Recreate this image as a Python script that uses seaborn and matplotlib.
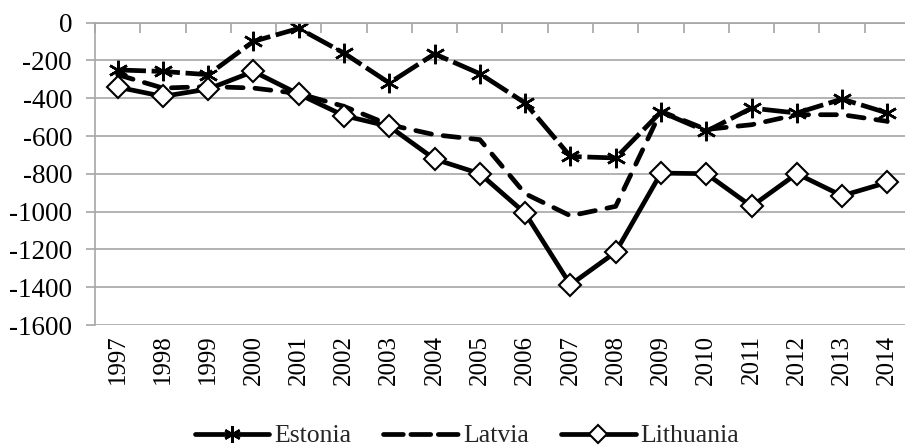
import numpy as np
import pandas as pd
import matplotlib
matplotlib.use("Agg")
import matplotlib.pyplot as plt
from matplotlib.lines import Line2D
import seaborn as sns

# Data
years = list(range(1997, 2015))
estonia = [-250, -258, -275, -99, -30, -161, -319, -165, -270, -425,
           -708, -716, -472, -575, -452, -478, -404, -478]
latvia = [-275, -346, -338, -346, -375, -443, -540, -593, -619, -905,
          -1022, -972, -469, -565, -540, -487, -487, -522]
lithuania = [-341, -390, -351, -258, -378, -492, -549, -722, -799, -1008,
             -1387, -1214, -796, -799, -972, -799, -916, -845]
series_names = ['Estonia', 'Latvia', 'Lithuania']

sns.set_theme(style="white")
plt.rcParams['font.family'] = ['Liberation Serif', 'DejaVu Serif']
plt.rcParams['axes.unicode_minus'] = False

fig = plt.figure(figsize=(9.05, 4.48), dpi=100)
ax = fig.add_axes([95 / 905, 1 - 325 / 448, 815 / 905, (325 - 22.7) / 448])

grid_c = '#a6a6a6'
lw = 3.4
star = (6, 2, 0)

sns.lineplot(x=years, y=estonia, ax=ax, color='black', linewidth=lw,
             marker=star, markersize=14, markeredgewidth=1.8,
             markeredgecolor='black', dashes=False)
ax.lines[-1].set_dashes((6.0, 1.2))

sns.lineplot(x=years, y=latvia, ax=ax, color='black', linewidth=lw, dashes=False)
ax.lines[-1].set_dashes((3.4, 2.5))
ax.lines[-1].set_dash_capstyle('round')

sns.lineplot(x=years, y=lithuania, ax=ax, color='black', linewidth=lw,
             marker='D', markersize=11, markerfacecolor='white',
             markeredgecolor='black', markeredgewidth=1.5, dashes=False)

ax.set_xlim(1996.5, 2014.5)
ax.set_ylim(-1600, 0)
ax.set_yticks(np.arange(-1600, 1, 200))
ax.set_xticks(years)
ax.set_xticklabels([str(y) for y in years], rotation=90)
ax.set_xticks(np.arange(1996.5, 2015, 1), minor=True)

ax.yaxis.grid(True, color=grid_c, linewidth=1.2)
ax.set_axisbelow(True)
for s in ['right', 'bottom']:
    ax.spines[s].set_visible(False)
for s in ['left', 'top']:
    ax.spines[s].set_color(grid_c)
    ax.spines[s].set_linewidth(1.2)

ax.tick_params(axis='x', which='major', bottom=True, top=False, length=0,
               labelsize=18, pad=7, labelcolor='black')
ax.tick_params(axis='x', which='minor', bottom=False, top=True, direction='in',
               length=7, width=1.2, color=grid_c)
ax.tick_params(axis='y', which='major', left=True, length=6.5, width=1.2,
               color=grid_c, labelsize=19.5, pad=10, labelcolor='black')

# legend keys as in the reference (solid Estonia key, three-dash Latvia key)
h_est = Line2D([], [], color='black', linewidth=lw, marker=star, markersize=12,
               markeredgewidth=1.8)
h_lat = Line2D([], [], color='black', linewidth=lw, dashes=(4.2, 1.6),
               dash_capstyle='round')
h_lit = Line2D([], [], color='black', linewidth=lw, marker='D', markersize=9,
               markerfacecolor='white', markeredgewidth=1.5)
fig.legend([h_est, h_lat, h_lit], series_names, loc='center',
           bbox_to_anchor=(467 / 905, 1 - 436 / 448),
           ncol=3, frameon=False, fontsize=18.5, handlelength=2.9,
           columnspacing=1.25, handletextpad=0.2, borderpad=0)

fig.savefig('out.png', dpi=100)
